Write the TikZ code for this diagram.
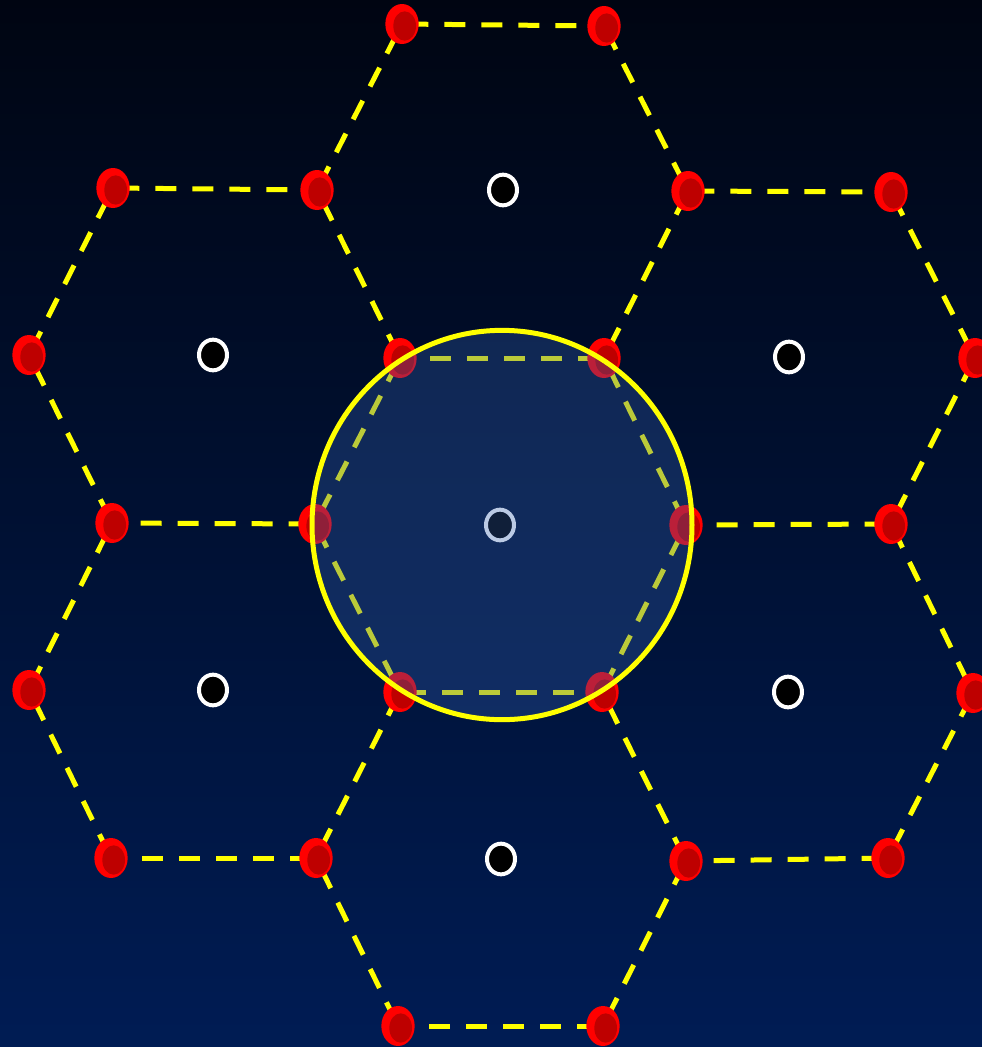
\documentclass[tikz,border=0pt]{standalone}
\usetikzlibrary{shapes.geometric}
\definecolor{bgtop}{RGB}{0,5,18}
\definecolor{bgbot}{RGB}{0,28,84}
\definecolor{hexyellow}{RGB}{255,255,0}
\definecolor{dotred}{RGB}{255,0,0}
\definecolor{dotdark}{RGB}{190,0,0}
\definecolor{zonefill}{RGB}{50,95,175}
\begin{document}
\begin{tikzpicture}[x=0.75pt,y=-0.75pt,
  edge/.style={draw=hexyellow,line width=3.75pt,dash pattern=on 15.75pt off 12pt,dash phase=-4pt},
  vertex/.style={ellipse,fill=dotred,inner sep=0pt,minimum width=25pt,minimum height=30pt,
    path picture={\fill[dotdark] ([xshift=2pt,yshift=-1.5pt]path picture bounding box.center) ellipse (8.5pt and 11pt);}},
  hub/.style={ellipse,fill=black,draw=white,line width=3pt,inner sep=0pt,minimum width=21pt,minimum height=23pt},
  zone/.style={ellipse,inner sep=0pt,minimum width=285pt,minimum height=292pt}]
% background
\shade[top color=bgtop,bottom color=bgbot] (0,0) rectangle (982,1047);
\useasboundingbox (0,0) rectangle (982,1047);
% vertex positions
\coordinate (p1) at (402,24);
\coordinate (p2) at (604,26);
\coordinate (p3) at (688,191);
\coordinate (p4) at (604,358);
\coordinate (p5) at (400,358);
\coordinate (p6) at (317,190);
\coordinate (p7) at (113,188);
\coordinate (p8) at (29,355);
\coordinate (p9) at (112,523);
\coordinate (p10) at (315,524);
\coordinate (p11) at (891,192);
\coordinate (p12) at (975,358);
\coordinate (p13) at (891,524);
\coordinate (p14) at (686,525);
\coordinate (p15) at (400,692);
\coordinate (p16) at (316,858);
\coordinate (p17) at (111,858);
\coordinate (p18) at (29,690);
\coordinate (p19) at (973,693);
\coordinate (p20) at (888,858);
\coordinate (p21) at (686,861);
\coordinate (p22) at (602,692);
\coordinate (p23) at (603,1026);
\coordinate (p24) at (398,1026);
% dashed hexagon edges
\foreach \a/\b in {1/2,2/3,3/4,4/5,5/6,6/1,
  7/6,5/10,10/9,9/8,8/7,
  3/11,11/12,12/13,13/14,14/4,
  10/15,15/16,16/17,17/18,18/9,
  13/19,19/20,20/21,21/22,22/14,
  15/22,21/23,23/24,24/16}
  \draw[edge] (p\a) -- (p\b);
% red vertex dots
\foreach \i in {1,...,24}
  \node[vertex] (v\i) at (p\i) {};
% cell centres
\node[hub] (c1) at (503,190) {};
\node[hub] (c2) at (213,355) {};
\node[hub] (c3) at (789,357) {};
\node[hub] (c4) at (500,525) {};
\node[hub] (c5) at (213,690) {};
\node[hub] (c6) at (788,692) {};
\node[hub] (c7) at (501,859) {};
% highlighted zone
\node[zone,fill=zonefill,fill opacity=0.33] (z) at (502,525) {};
\node[zone,draw=hexyellow,line width=3.75pt] (zo) at (502,525) {};
\end{tikzpicture}
\end{document}
